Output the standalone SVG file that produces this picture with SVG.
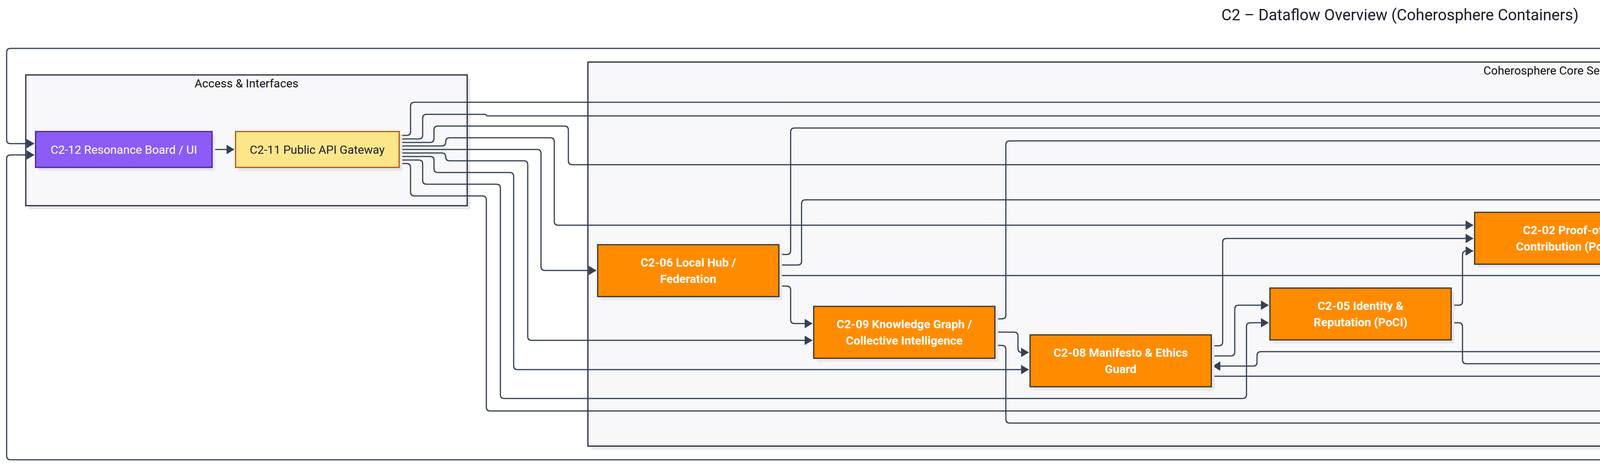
<svg xmlns="http://www.w3.org/2000/svg" width="7167" height="1194" viewBox="0 0 7167 1194">
<defs>
<marker id="arr" viewBox="0 0 20 24" refX="19" refY="12" markerWidth="20" markerHeight="24" markerUnits="userSpaceOnUse" orient="auto"><path d="M0,0 L20,12 L0,24 z" fill="#334155"/></marker>
<marker id="arrB" viewBox="0 0 20 24" refX="19" refY="12" markerWidth="20" markerHeight="24" markerUnits="userSpaceOnUse" orient="auto-start-reverse"><path d="M0,0 L20,12 L0,24 z" fill="#000"/></marker>
</defs>
<style>
text{font-family:Roboto,"Liberation Sans",Arial,sans-serif;text-anchor:middle;dominant-baseline:central}
.title{font-size:40px;fill:#1e1b2e}
.sg rect.box{fill:#f8f8fa;stroke:#25243a;stroke-width:3}
.sg text{font-size:30px;fill:#111}
.shadow{fill:#e8e8ec;stroke:none}
.core rect.n{fill:#ff8c00;stroke:#333;stroke-width:3}
.core text{fill:#fff;font-weight:bold;font-size:30px}
.ext rect.n{fill:#e5e7eb;stroke:#9ca3af;stroke-width:3}
.ext text{fill:#1f2033;font-size:30px}
.ui rect.n{fill:#8b5cf6;stroke:#4c1d95;stroke-width:3}
.ui text{fill:#fff;font-size:30px}
.gw rect.n{fill:#fde68a;stroke:#b45309;stroke-width:3}
.gw text{fill:#1f2033;font-size:30px}
#connectors path{fill:none;stroke:#334155;stroke-width:3;marker-end:url(#arr)}
</style>
<rect width="7167" height="1194" fill="#fff"/>
<text class="title" x="3584" y="38">C2 – Dataflow Overview (Coherosphere Containers)</text>

<g id="sg-access" class="sg">
<rect class="shadow" x="74" y="201" width="1130" height="335"/>
<rect class="box" x="66" y="192" width="1130" height="335"/>
<text x="631" y="213">Access &amp; Interfaces</text>
</g>
<g id="sg-core" class="sg">
<rect class="shadow" x="1513" y="168" width="4962" height="984"/>
<rect class="box" x="1505" y="159" width="4962" height="984"/>
<text x="3986" y="180">Coherosphere Core Services</text>
</g>
<g id="sg-external" class="sg">
<rect class="shadow" x="6646" y="383" width="512" height="570"/>
<rect class="box" x="6638" y="374" width="512" height="570"/>
<text x="6894" y="395">External Ecosystem</text>
</g>

<g id="connectors">
<path d="M543,383 L599,383"/>
<path d="M1022,347 L1041,347 Q1051,347 1051,337 L1051,272 Q1051,262 1061,262 L5986,262 Q5996,262 5996,272 L5996,473 Q5996,483 6006,483 L6021,483"/>
<path d="M1022,356 L1072,356 Q1082,356 1082,346 L1082,303 Q1082,293 1092,293 L1241,293 Q1245,293 1245,295 Q1245,297 1249,297 L4820,297 Q4830,297 4830,307 Q4830,317 4840,317 L4945,317"/>
<path d="M1022,365 L1101,365 Q1111,365 1111,355 L1111,333 Q1111,323 1121,323 L1445,323 Q1455,323 1455,333 L1455,412 Q1455,422 1465,422 L4355,422"/>
<path d="M1022,374 L1131,374 Q1141,374 1141,364 L1141,363 Q1141,353 1151,353 L1409,353 Q1419,353 1419,363 L1419,567 Q1419,577 1429,577 L3771,577"/>
<path d="M1022,383 L1375,383 Q1385,383 1385,393 L1385,683 Q1385,693 1395,693 L1526,693"/>
<path d="M1022,392 L1131,392 Q1141,392 1141,402 Q1141,412 1151,412 L1341,412 Q1351,412 1351,422 L1351,862 Q1351,872 1361,872 L2079,872"/>
<path d="M1022,401 L1101,401 Q1111,401 1111,411 L1111,432 Q1111,442 1121,442 L1305,442 Q1315,442 1315,452 L1315,937 Q1315,947 1325,947 L2633,947"/>
<path d="M1022,410 L1072,410 Q1082,410 1082,420 L1082,462 Q1082,472 1092,472 L1271,472 Q1281,472 1281,482 L1281,1011 Q1281,1021 1291,1021 L3181,1021 Q3191,1021 3191,1011 L3191,837 Q3191,827 3201,827 L3247,827"/>
<path d="M1022,419 L1041,419 Q1051,419 1051,429 L1051,492 Q1051,502 1061,502 L1235,502 Q1245,502 1245,512 L1245,1043 Q1245,1053 1255,1053 L4288,1053 Q4298,1053 4298,1043 L4298,967 Q4298,957 4308,957 L4357,957"/>
<path d="M1994,652 L2014,652 Q2024,652 2024,642 L2024,338 Q2024,328 2034,328 L4792,328 Q4798,328 4798,333.5 Q4798,339 4804,339 L4945,339"/>
<path d="M1994,679 L2042,679 Q2052,679 2052,669 L2052,522 Q2052,512 2062,512 L6021,512"/>
<path d="M1994,706 L4285,706 Q4295,706 4295,716 L4295,897 Q4295,907 4305,907 L4357,907"/>
<path d="M1994,733 L2014,733 Q2024,733 2024,743 L2024,819 Q2024,829 2034,829 L2079,829"/>
<path d="M2547,817 L2565,817 Q2575,817 2575,807 L2575,371 Q2575,361 2585,361 L4945,361"/>
<path d="M2547,851 L2596,851 Q2606,851 2606,861 L2606,893 Q2606,903 2616,903 L2633,903"/>
<path d="M2547,885 L2565,885 Q2575,885 2575,895 L2575,1074 Q2575,1084 2585,1084 L6577,1084 Q6587,1084 6587,1074 L6587,900 Q6587,890 6597,890 L6657,890"/>
<path d="M3101,886 L3120,886 Q3130,886 3130,876 L3130,621 Q3130,611 3140,611 L3771,611"/>
<path d="M3101,912 L3151,912 Q3161,912 3161,902 L3161,792 Q3161,782 3171,782 L3247,782"/>
<path d="M3101,964 L4258,964 Q4267,964 4267,955 Q4267,945 4276,945 L4357,945"/>
<path d="M4361,919 L4276,919 Q4267,919 4267,910 Q4267,901 4258,901 L3228,901 Q3218,901 3218,911 L3218,928 Q3218,938 3208,938 L3105,938"/>
<path d="M3715,782 L3734,782 Q3744,782 3744,772 L3744,653 Q3744,643 3754,643 L3771,643"/>
<path d="M3715,827 L3734,827 Q3744,827 3744,837 L3744,922 Q3744,932 3754,932 L4357,932"/>
<path d="M4239,588 L4257,588 Q4267,588 4267,578 L4267,464 Q4267,454 4277,454 L4355,454"/>
<path d="M4239,632 L4314,632 Q4324,632 4324,642 L4324,883 Q4324,893 4334,893 L4357,893"/>
<path d="M4768,423 L4788,423 Q4798,423 4798,413 L4798,393 Q4798,383 4808,383 L4945,383"/>
<path d="M4768,452 L4907,452 Q4917,452 4917,462 L4917,1043 Q4917,1053 4927,1053 L6543,1053 Q6553,1053 6553,1043 L6553,870 Q6553,860 6563,860 L6657,860"/>
<path d="M4762,899 L4820,899 Q4830,899 4830,889 L4830,415 Q4830,405 4840,405 L4945,405"/>
<path d="M4762,917 L4847,917 Q4857,917 4857,907 L4857,769 Q4857,759 4867,759 L5956,759 Q5966,759 5966,749 L5966,538 Q5966,528 5976,528 L6021,528"/>
<path d="M5473,878 L4894,878 Q4884,878 4884,888 L4884,925 Q4884,935 4874,935 L4766,935"/>
<path d="M4766,953 L6507,953 Q6517,953 6517,943 L6517,714 Q6517,704 6527,704 L6657,704" marker-start="url(#arrB)"/>
<path d="M5413,327 L5432,327 Q5442,327 5442,317 L5442,240 Q5442,230 5452,230 L6506,230 Q6516,230 6516,220 L6516,134 Q6516,124 6506,124 L27,124 Q17,124 17,134 L17,358 Q17,368 27,368 L87,368"/>
<path d="M5413,393 L5432,393 Q5442,393 5442,403 L5442,825 Q5442,835 5452,835 L5469,835"/>
<path d="M6025,497 L5976,497 Q5966,497 5966,487 L5966,371 Q5966,361 5956,361 L5417,361"/>
<path d="M5936,835 L5986,835 Q5996,835 5996,825 L5996,552 Q5996,542 6006,542 L6021,542"/>
<path d="M5936,878 L5956,878 Q5966,878 5966,888 L5966,1107 Q5966,1117 5976,1117 L6506,1117 Q6516,1117 6516,1127 L6516,1168 Q6516,1178 6506,1178 L27,1178 Q17,1178 17,1168 L17,407 Q17,397 27,397 L87,397"/>
<path d="M6444,512 L6657,512"/>
</g>

<g id="C2-12" class="ui"><rect class="shadow" x="99" y="346" width="452" height="92"/><rect class="n" x="91" y="337" width="452" height="92"/><text x="317" y="383">C2-12 Resonance Board / UI</text></g>
<g id="C2-11" class="gw"><rect class="shadow" x="611" y="346" width="419" height="92"/><rect class="n" x="603" y="337" width="419" height="92"/><text x="812" y="383">C2-11 Public API Gateway</text></g>

<g id="C2-06" class="core"><rect class="shadow" x="1538" y="636" width="464" height="133"/><rect class="n" x="1530" y="627" width="464" height="133"/><text x="1762" y="672">C2-06 Local Hub /</text><text x="1762" y="714">Federation</text></g>
<g id="C2-09" class="core"><rect class="shadow" x="2091" y="794" width="464" height="133"/><rect class="n" x="2083" y="785" width="464" height="133"/><text x="2315" y="830">C2-09 Knowledge Graph /</text><text x="2315" y="872">Collective Intelligence</text></g>
<g id="C2-08" class="core"><rect class="shadow" x="2645" y="867" width="464" height="133"/><rect class="n" x="2637" y="858" width="464" height="133"/><text x="2869" y="903">C2-08 Manifesto &amp; Ethics</text><text x="2869" y="945">Guard</text></g>
<g id="C2-05" class="core"><rect class="shadow" x="3259" y="747" width="464" height="133"/><rect class="n" x="3251" y="738" width="464" height="133"/><text x="3483" y="783">C2-05 Identity &amp;</text><text x="3483" y="825">Reputation (PoCI)</text></g>
<g id="C2-02" class="core"><rect class="shadow" x="3783" y="553" width="464" height="133"/><rect class="n" x="3775" y="544" width="464" height="133"/><text x="4007" y="589">C2-02 Proof-of-</text><text x="4007" y="631">Contribution (PoC)</text></g>
<g id="C2-01" class="core"><rect class="shadow" x="4367" y="402" width="409" height="90"/><rect class="n" x="4359" y="393" width="409" height="90"/><text x="4563" y="438">C2-01 Resonance Service</text></g>
<g id="C2-03" class="core"><rect class="shadow" x="4369" y="890" width="401" height="91"/><rect class="n" x="4361" y="881" width="401" height="91"/><text x="4561" y="926">C2-03 Governance &amp; DAO</text></g>
<g id="C2-07" class="core"><rect class="shadow" x="4957" y="304" width="464" height="133"/><rect class="n" x="4949" y="295" width="464" height="133"/><text x="5181" y="340">C2-07 Resonance Metric</text><text x="5181" y="382">Stack / Analytics</text></g>
<g id="C2-04" class="core"><rect class="shadow" x="6033" y="476" width="419" height="91"/><rect class="n" x="6025" y="467" width="419" height="91"/><text x="6234" y="512">C2-04 Treasury &amp; Funding</text></g>
<g id="C2-10" class="core"><rect class="shadow" x="5481" y="800" width="463" height="133"/><rect class="n" x="5473" y="791" width="463" height="133"/><text x="5704" y="836">C2-10 Security &amp; Audit</text><text x="5704" y="878">Layer</text></g>

<g id="C1-06" class="ext"><rect class="shadow" x="6669" y="455" width="464" height="133"/><rect class="n" x="6661" y="446" width="464" height="133"/><text x="6893" y="491">C1-06 Bitcoin / Hard Asset</text><text x="6893" y="533">Layer</text></g>
<g id="C1-04" class="ext"><rect class="shadow" x="6669" y="647" width="464" height="133"/><rect class="n" x="6661" y="638" width="464" height="133"/><text x="6893" y="683">C1-04 External DAOs /</text><text x="6893" y="725">Web3 Systems</text></g>
<g id="C1-03" class="ext"><rect class="shadow" x="6669" y="839" width="442" height="91"/><rect class="n" x="6661" y="830" width="442" height="91"/><text x="6882" y="875">C1-03 AI Systems / Agents</text></g>
</svg>
